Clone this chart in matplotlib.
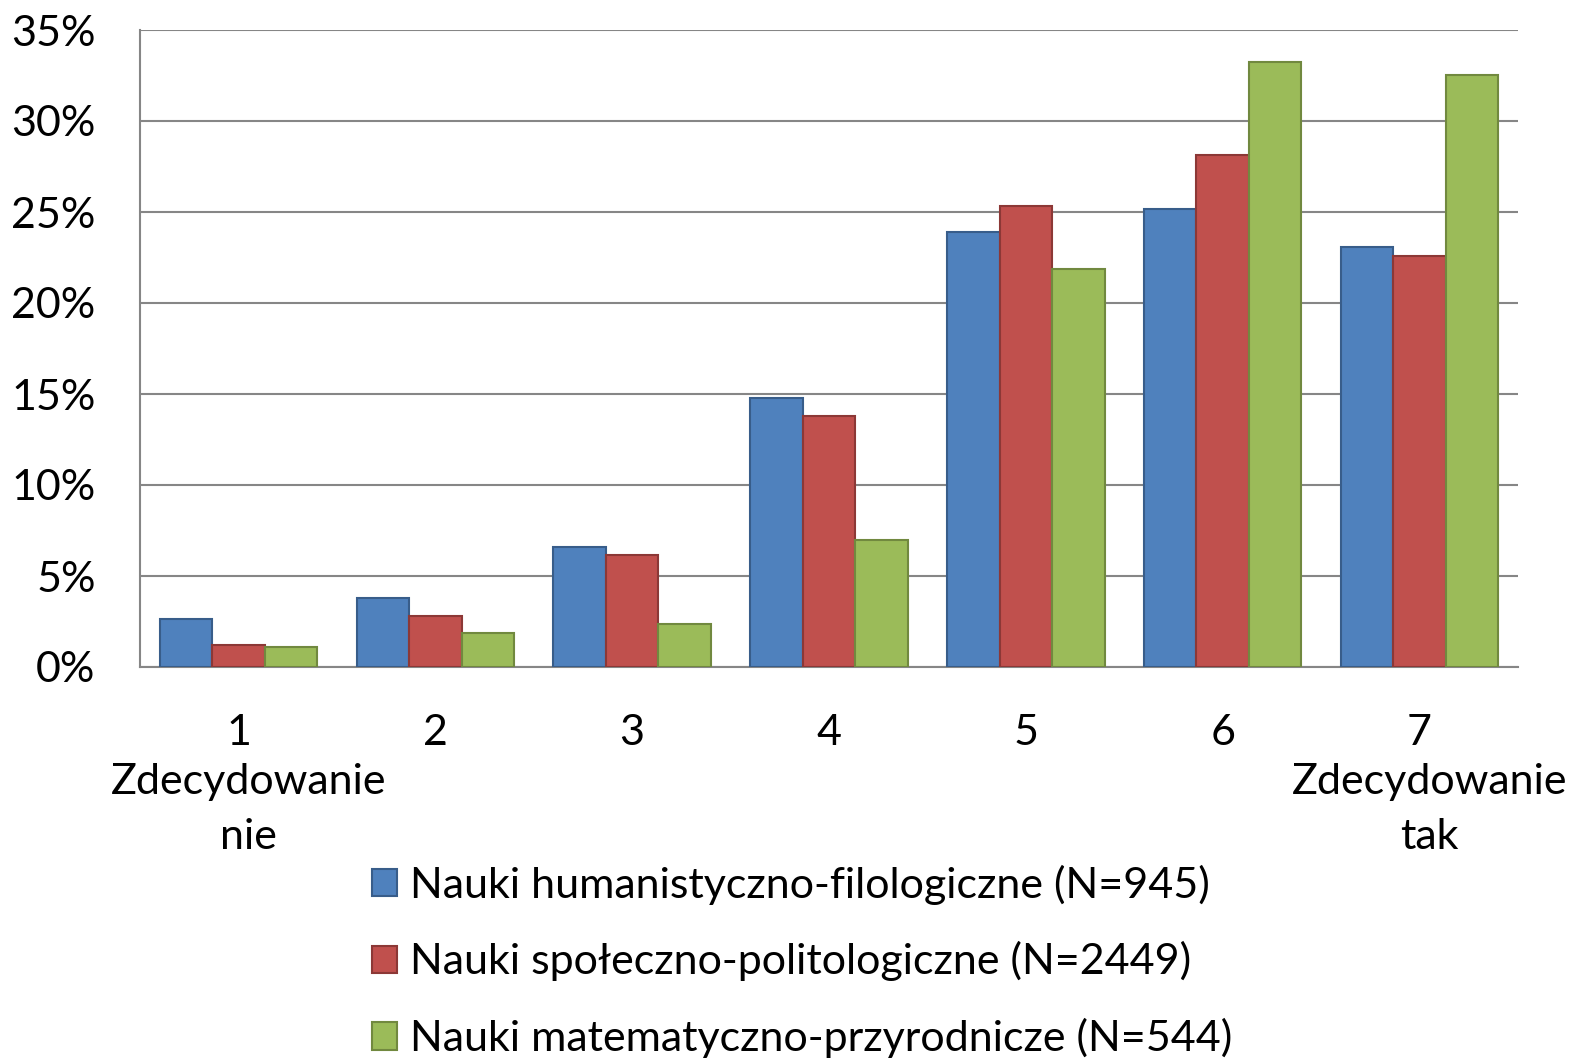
import numpy as np
import matplotlib.pyplot as plt
from matplotlib.patches import Patch

plt.rcParams['font.family'] = ['Lato', 'DejaVu Sans']

# DANE
categories = ["1", "2", "3", "4", "5", "6", "7"]
extra_labels = {0: "Zdecydowanie\nnie", 6: "Zdecydowanie\ntak"}
series = ["Nauki humanistyczno-filologiczne (N=945)",
          "Nauki społeczno-politologiczne (N=2449)",
          "Nauki matematyczno-przyrodnicze (N=544)"]
human = [2.64, 3.80, 6.60, 14.78, 23.90, 25.16, 23.08]
spol = [1.20, 2.80, 6.15, 13.79, 25.33, 28.13, 22.58]
mat = [1.10, 1.87, 2.36, 6.98, 21.87, 33.24, 32.53]
values = [human, spol, mat]

colors = ["#4F81BD", "#C0504D", "#9BBB59"]
edges = ["#385D8A", "#8C3836", "#71893F"]
grid_c = "#868686"
fs = 31

# GRÁFICO
fig = plt.figure(figsize=(15.72, 10.58), dpi=100)
ax = fig.add_axes([140/1572, 1 - 667/1058, (1518 - 140)/1572, (667 - 30)/1058])

x = np.arange(len(categories))
w = 1/3.75
for k in range(len(values)):
    ax.bar(x + (k - 1)*w, values[k], width=w, color=colors[k],
           edgecolor=edges[k], linewidth=1.5, zorder=3)

ax.set_xlim(-0.5, len(categories) - 0.5)
ax.set_ylim(0, 35)
ax.set_yticks(np.arange(0, 36, 5))
ax.set_yticklabels([f"{v}%" for v in range(0, 36, 5)], fontsize=fs)
ax.set_xticks(x)
ax.set_xticklabels(categories, fontsize=fs)
ax.tick_params(axis='both', length=0)
ax.tick_params(axis='y', pad=32)
ax.tick_params(axis='x', pad=34)
ax.yaxis.grid(True, color=grid_c, linewidth=1.5, zorder=0)
for s in ["top", "right"]:
    ax.spines[s].set_visible(False)
for s in ["left", "bottom"]:
    ax.spines[s].set_color(grid_c)
    ax.spines[s].set_linewidth(1.5)

for i, txt in extra_labels.items():
    ax.annotate(txt, xy=(i, 0), xycoords=('data', 'axes fraction'),
                xytext=(10, -96), textcoords='offset pixels',
                ha='center', va='top', fontsize=fs, linespacing=1.55)

h = [Patch(facecolor=colors[k], edgecolor=edges[k], linewidth=1.5) for k in range(3)]
fig.legend(handles=h, labels=series, loc='upper left',
           bbox_to_anchor=(350/1572, 1 - 843/1058), frameon=False,
           fontsize=fs, handlelength=0.6, handleheight=0.6,
           handletextpad=0.3, labelspacing=0.85, borderpad=0)

plt.savefig("out.png", dpi=100)
